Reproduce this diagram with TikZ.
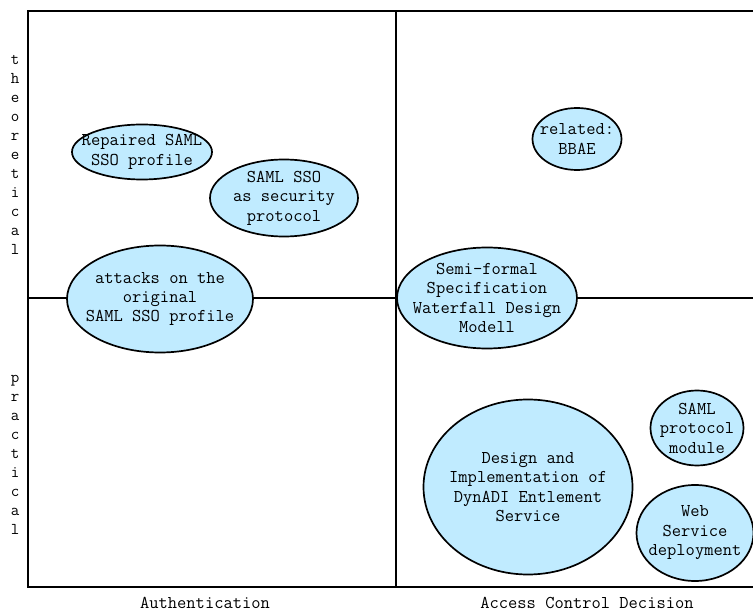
\documentclass[tikz,border=0pt]{standalone}
\usepackage{fontspec}
\usetikzlibrary{shapes.geometric}
\definecolor{bubblefill}{RGB}{192,235,255}
\tikzset{
  frameline/.style={line width=1.9pt, black},
  bubble/.style={ellipse, draw=black, line width=1.7pt, fill=bubblefill, inner sep=0pt},
  bubbletext/.style={font=\ttfamily\fontsize{18}{19.5}\selectfont, align=center, inner sep=0pt},
  axislabel/.style={font=\ttfamily\fontsize{18}{19.5}\selectfont, inner sep=0pt},
  sidelabel/.style={font=\ttfamily\fontsize{16.5}{19}\selectfont, align=center, inner sep=0pt}
}
\begin{document}
\begin{tikzpicture}[x=1pt, y=-1pt]
  \useasboundingbox (0,0) rectangle (753,612);

  % quadrant frame
  \coordinate (tl) at (28,11);
  \coordinate (tr) at (753,11);
  \coordinate (bl) at (28,587);
  \coordinate (br) at (753,587);
  \coordinate (mt) at (396,11);
  \coordinate (mb) at (396,587);
  \coordinate (ml) at (28,298);
  \coordinate (mr) at (753,298);
  \draw[frameline] (tr) -- (tl) -- (bl) -- (br);
  \draw[frameline] (mt) -- (mb);
  \draw[frameline] (ml) -- (mr);

  % bubbles
  \node[bubble, minimum width=140pt, minimum height=55pt] (rep) at (142,152) {};
  \node[bubbletext] at (rep.center) {Repaired SAML\\SSO profile};

  \node[bubble, minimum width=148pt, minimum height=77pt] (sec) at (284,198) {};
  \node[bubbletext] at (sec.center) {SAML SSO\\as security\\protocol};

  \node[bubble, minimum width=186pt, minimum height=107pt] (att) at (160,299) {};
  \node[bubbletext] at (att.center) {attacks on the\\original\\SAML SSO profile};

  \node[bubble, minimum width=89pt, minimum height=62pt] (bbae) at (577,139) {};
  \node[bubbletext] at (bbae.center) {related:\\BBAE};

  \node[bubble, minimum width=180pt, minimum height=101pt] (semi) at (487,298) {};
  \node[bubbletext] at (semi.center) {Semi-formal\\Specification\\Waterfall Design\\Modell};

  \node[bubble, minimum width=209pt, minimum height=175pt] (dyn) at (528,487) {};
  \node[bubbletext] at (dyn.center) {Design and\\Implementation of\\DynADI Entlement\\Service};

  \node[bubble, minimum width=93pt, minimum height=75pt] (proto) at (697,428) {};
  \node[bubbletext] at (proto.center) {SAML\\protocol\\module};

  \node[bubble, minimum width=117pt, minimum height=96pt] (web) at (695,533) {};
  \node[bubbletext] at (web.center) {Web\\Service\\deployment};

  % axis labels
  \node[sidelabel] (theo) at (15,155) {t\\h\\e\\o\\r\\e\\t\\i\\c\\a\\l};
  \node[sidelabel] (prac) at (15,455) {p\\r\\a\\c\\t\\i\\c\\a\\l};
  \node[axislabel] (auth) at (205,603) {Authentication};
  \node[axislabel] (acd) at (587,603) {Access Control Decision};
\end{tikzpicture}
\end{document}
